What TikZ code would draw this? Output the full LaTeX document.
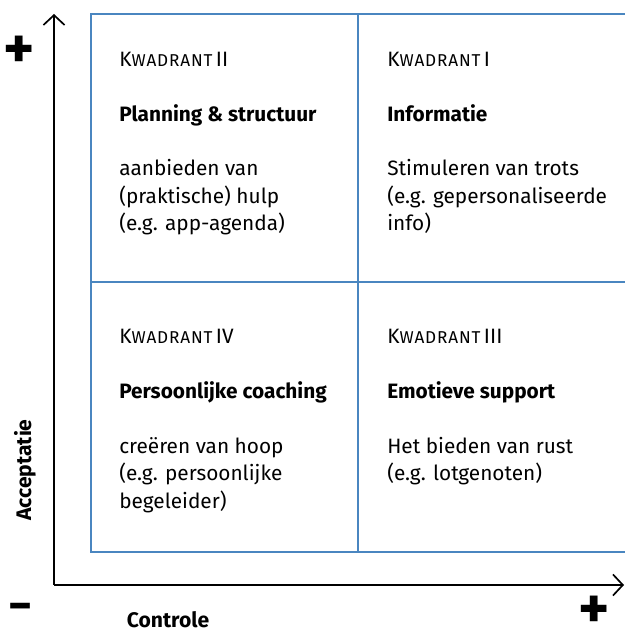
\documentclass[tikz,border=0pt]{standalone}
\usepackage{fontspec}
\setmainfont{Fira Sans}
\usetikzlibrary{arrows,arrows.meta}
\definecolor{kwblue}{RGB}{74,134,192}
\tikzset{
  axis/.style={line width=1.2pt, ->, >={Straight Barb[length=7pt,width=15pt]}},
  grid/.style={kwblue, line width=1.6pt},
  kwtext/.style={anchor=north west, align=left, inner sep=0pt,
    font=\fontsize{14.8}{19.5}\selectfont},
  sign/.style={font=\fontsize{42}{42}\bfseries\selectfont, inner sep=0pt},
  axislabel/.style={font=\fontsize{15}{18}\bfseries\selectfont, inner sep=0pt}
}
\newcommand{\kwadrant}[1]{K{\fontsize{12.2}{12}\selectfont\addfontfeature{LetterSpace=5}WADRANT}\,#1}

\begin{document}
\begin{tikzpicture}
      \useasboundingbox (0,0) rectangle (15.625,15.75);

      % axes
      \coordinate (origin) at (1.35,1.125);
      \coordinate (ytop) at (1.35,15.4);
      \coordinate (xend) at (15.6,1.125);
      \draw [axis] (origin) -- (ytop);
      \draw [axis] (origin) -- (xend);

      % quadrant grid
      \draw [grid] (15.625,15.4) -- (2.275,15.4) -- (2.275,1.95) -- (15.625,1.95);
      \draw [grid] (8.95,15.4) -- (8.95,1.95);
      \draw [grid] (2.275,8.7) -- (15.625,8.7);

      \node [kwtext] (q2) at (2.975, 14.46) {\kwadrant{II}\\[19.5pt]
        \textbf{Planning \& structuur}\\[19.5pt]
        aanbieden van\\ (praktische) hulp\\ (e.g. app-agenda)};
      \node [kwtext] (q1) at (9.675, 14.46) {\kwadrant{I}\\[19.5pt]
        \textbf{Informatie}\\[19.5pt]
        Stimuleren van trots\\ (e.g. gepersonaliseerde\\ info)};
      \node [kwtext] (q4) at (2.975, 7.52) {\kwadrant{IV}\\[19.5pt]
        \textbf{Persoonlijke coaching}\\[19.5pt]
        creëren van hoop\\ (e.g. persoonlijke\\ begeleider)};
      \node [kwtext] (q3) at (9.675, 7.52) {\kwadrant{III}\\[19.5pt]
        \textbf{Emotieve support}\\[19.5pt]
        Het bieden van rust\\ (e.g. lotgenoten)};

      \node [sign] (plustop) at (0.47, 14.45) {+};
      \node [sign, font=\fontsize{33}{33}\bfseries\selectfont] (minus) at (0.525, 0.45) {−};
      \node [sign] (plusright) at (14.85, 0.45) {+};

      \node [axislabel, rotate=90] (accept) at (0.625, 4.0) {Acceptatie};
      \node [axislabel] (control) at (4.2, 0.27) {Controle};
    \end{tikzpicture}
\end{document}
